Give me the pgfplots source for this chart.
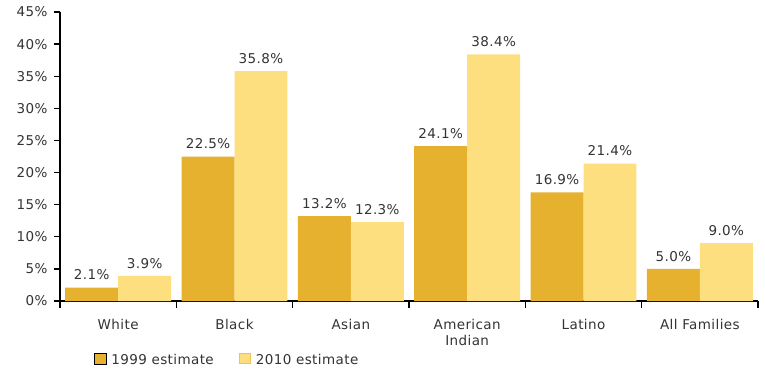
\documentclass[border=0pt]{standalone}
\usepackage{pgfplots}
\pgfplotsset{compat=1.18}
\usepackage{fontspec}
\setmainfont[LetterSpace=3]{DejaVu Sans}
\definecolor{darkgold}{HTML}{E6B12F}
\definecolor{lightgold}{HTML}{FDDF80}
\definecolor{lightedge}{HTML}{E9C45C}
\definecolor{txt}{HTML}{333333}
\begin{document}
\begin{tikzpicture}
\useasboundingbox (-60pt,-67pt) rectangle (705pt,301pt);
\begin{axis}[
  scale only axis, width=698pt, height=289pt,
  at={(0pt,0pt)}, anchor=south west,
  font=\fontsize{13.5}{16}\selectfont,
  /pgf/number format/assume math mode=true,
  axis lines*=left,
  axis line style={line width=1.3pt, black},
  xmin=-0.5, xmax=5.5, ymin=0, ymax=45,
  ytick={0,5,...,45},
  yticklabel={\pgfmathprintnumber{\tick}\%},
  yticklabel style={text=txt, xshift=-3pt},
  xtick={0,1,2,3,4,5},
  xticklabels={White,Black,Asian,{American\\Indian},Latino,All Families},
  xticklabel style={align=center, text=txt, yshift=-9pt},
  major x tick style={draw=none},
  minor xtick={-0.5,0.5,...,5.5},
  tick align=outside,
  tick style={line width=1.3pt, black},
  major tick length=6pt, minor tick length=7pt,
  ybar, bar width=0.455,
  nodes near coords={\pgfmathprintnumber[fixed,fixed zerofill,precision=1]{\pgfplotspointmeta}\%},
  every node near coord/.append style={text=txt, font=\fontsize{13.5}{16}\selectfont, yshift=4pt},
  legend columns=2,
  legend style={at={(0.044,-0.204)}, anchor=west, draw=none, fill=none,
    font=\fontsize{13.5}{16}\selectfont, text=txt,
    /tikz/every odd column/.append style={column sep=3pt},
    /tikz/every even column/.append style={column sep=23pt}},
  legend image code/.code={\draw[#1] (0pt,-4.5pt) rectangle (12pt,7pt);},
]
\addplot[fill=darkgold, draw=none, bar shift=-0.2275] coordinates {(0,2.1) (1,22.5) (2,13.2) (3,24.1) (4,16.9) (5,5.0)};
\addplot[fill=lightgold, draw=none, bar shift=0.2275, legend image code/.code={\draw[fill=lightgold, draw=lightedge, line width=1pt] (0.5pt,-4pt) rectangle (11.5pt,6.5pt);}] coordinates {(0,3.9) (1,35.8) (2,12.3) (3,38.4) (4,21.4) (5,9.0)};
\legend{1999 estimate, 2010 estimate}
\end{axis}
\end{tikzpicture}
\end{document}
